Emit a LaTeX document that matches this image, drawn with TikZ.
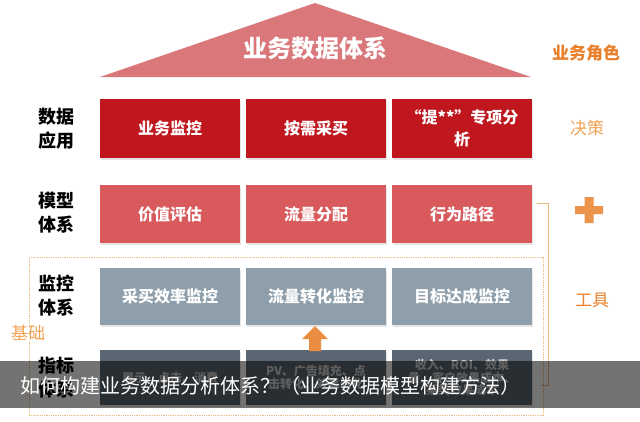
\documentclass[tikz,border=0pt]{standalone}
\usepackage{fontspec}
\setmainfont{Noto Sans CJK SC}
\usepackage{tikz}
\usetikzlibrary{shadows}

\definecolor{roofred}{HTML}{D9777A}
\definecolor{appred}{HTML}{C0161E}
\definecolor{modred}{HTML}{D85A5C}
\definecolor{mongray}{HTML}{8E9FAB}
\definecolor{idxgray}{HTML}{5A6671}
\definecolor{roleor}{HTML}{E9802C}
\definecolor{lightor}{HTML}{F0A253}
\definecolor{lineor}{HTML}{EDB97F}

\begin{document}
\begin{tikzpicture}[x=1pt,y=-1pt,
    cell/.style={minimum width=140pt,inner sep=2pt,text=white,align=center,
      font=\bfseries\fontsize{16}{22}\selectfont,
      drop shadow={opacity=0.2,shadow xshift=1pt,shadow yshift=-1.5pt}},
    idxcell/.style={cell,text=white!82!black,font=\bfseries\fontsize{12}{12.5}\selectfont},
    rowlab/.style={align=center,inner sep=0pt,font=\bfseries\fontsize{18}{24}\selectfont},
    sidelab/.style={inner sep=0pt,font=\fontsize{17}{20}\selectfont}]
      \useasboundingbox (0,0) rectangle (640,421);
      \fill[white] (0,0) rectangle (640,421);
      \fill[roofred] (100,77) -- (315,3) -- (531,77) -- cycle;
      \node[font=\bfseries\fontsize{24}{28}\selectfont,text=white] (roof) at (315,48) {业务数据体系};
      \node[sidelab,font=\bfseries\fontsize{17}{20}\selectfont,text=roleor] (role) at (586,53) {业务角色};
      \draw[lineor,densely dotted,line width=0.8pt] (29,257) rectangle (543,415);
      \draw[lineor,line width=0.8pt] (537,203) -- (548,203) -- (548,385) -- (541,385);
      \foreach \c/\x/\txt in {1/170/业务监控,2/316/按需采买,3/462/{“提**”专项分\\析}}{
        \node[cell,fill=appred,minimum height=59pt] (app\c) at (\x,128.5) {\txt};
      }
      \foreach \c/\x/\txt in {1/170/价值评估,2/316/流量分配,3/462/行为路径}{
        \node[cell,fill=modred,minimum height=58pt] (mod\c) at (\x,214) {\txt};
      }
      \foreach \c/\x/\txt in {1/170/采买效率监控,2/316/流量转化监控,3/462/目标达成监控}{
        \node[cell,fill=mongray,minimum height=57pt] (mon\c) at (\x,296.5) {\txt};
      }
      \foreach \c/\x/\txt in {1/170/{展示、点击、消费},2/316/{PV、广告填充、点\\击转化、效果转化},3/462/{收入、ROI、效果\\量、客户效果成本、\\某类效果成本}}{
        \node[idxcell,fill=idxgray,minimum height=55pt] (idx\c) at (\x,377.5) {\txt};
      }
      \foreach \n/\y/\txt in {app/128.5/{数据\\应用},mod/213/{模型\\体系},mon/295.5/{监控\\体系},idx/378/{指标\\体系}}{
        \node[rowlab] (\n lab) at (56,\y) {\txt};
      }
      \node[sidelab,text=lightor] (decide) at (587,128) {决策};
      \node[sidelab,text=roleor] (tool) at (592,300) {工具};
      \node[sidelab,text=lightor,fill=white,fill opacity=0.7,text opacity=1,inner sep=1pt] (base) at (28,333) {基础};
      \fill[roleor!85!white] (588.5,197) -- (593.5,197) -- (593.5,206) -- (603,206) -- (603,214) -- (593.5,214) -- (593.5,223) -- (584.5,223) -- (584.5,214) -- (575,214) -- (575,206) -- (584.5,206) -- (584.5,197) -- cycle;
      \fill[roleor!90!white] (315,326) -- (328,339) -- (321,339) -- (321,351) -- (309,351) -- (309,339) -- (302,339) -- cycle;
      \fill[black,opacity=0.55] (0,361) rectangle (640,408);
      \node[anchor=west,text=white,inner sep=0pt,font=\fontsize{20}{24}\selectfont] (title) at (20,386) {如何构建业务数据分析体系？（业务数据模型构建方法）};
\end{tikzpicture}
\end{document}
